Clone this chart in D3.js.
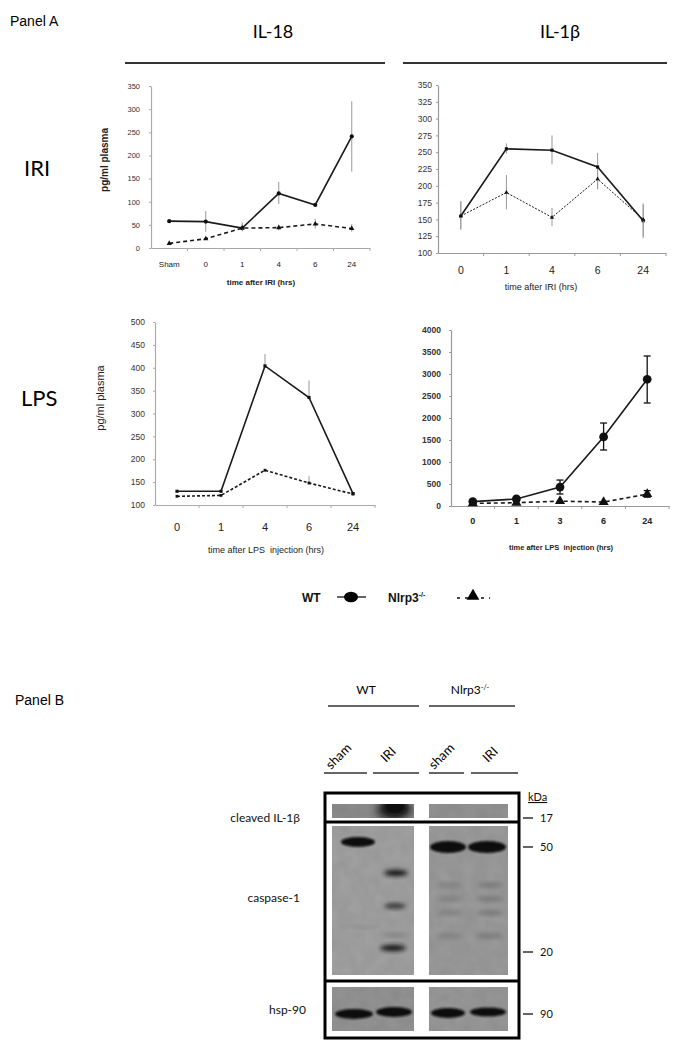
<!DOCTYPE html>
<html><head><meta charset="utf-8">
<script src="https://cdn.jsdelivr.net/npm/d3@7"></script>
<style>body{margin:0;background:#fff} svg{display:block}</style>
</head><body>
<script>
// ---------- DATA ----------
const il18IriCats = ["Sham","0","1","4","6","24"];
const il18IriWT   = [58,57,43,118,93,241];
const il18IriWTLo = [null,35,37,95,null,165];
const il18IriWTHi = [null,80,53,143,null,317];
const il18IriKO   = [10,20,43,44,52,42];
const il18IriKOLo = [null,null,36,38,42,35];
const il18IriKOHi = [null,null,55,50,63,52];
const il18IriYTicks = [0,50,100,150,200,250,300,350];

const il1bIriCats = ["0","1","4","6","24"];
const il1bIriWT   = [155,255,253,228,148];
const il1bIriWTLo = [135,248,232,195,122];
const il1bIriWTHi = [177,263,275,249,174];
const il1bIriKO   = [155,190,153,210,150];
const il1bIriKOLo = [135,165,140,195,125];
const il1bIriKOHi = [177,216,167,222,172];
const il1bIriYTicks = [100,125,150,175,200,225,250,275,300,325,350];

const il18LpsCats = ["0","1","4","6","24"];
const il18LpsWT   = [130,130,404,335,125];
const il18LpsWTHi = [null,null,430,372,null];
const il18LpsKO   = [119,121,176,148,124];
const il18LpsKOHi = [null,null,null,163,null];
const il18LpsYTicks = [100,150,200,250,300,350,400,450,500];

const il1bLpsCats = ["0","1","3","6","24"];
const il1bLpsWT   = [100,160,430,1570,2880];
const il1bLpsWTLo = [60,110,273,1273,2341];
const il1bLpsWTHi = [130,200,590,1886,3409];
const il1bLpsKO   = [60,75,110,90,270];
const il1bLpsKOLo = [null,null,null,null,200];
const il1bLpsKOHi = [null,null,null,null,350];
const il1bLpsYTicks = [0,500,1000,1500,2000,2500,3000,3500,4000];

const legendLabels = ["WT","Nlrp3"];
const blotRows = ["cleaved IL-1\u03b2","caspase-1","hsp-90"];
const blotLanes = ["sham","IRI","sham","IRI"];
const blotGroups = ["WT","Nlrp3"];
const kdaLabels = ["17","50","20","90"];

// ---------- SVG ----------
const W=678,H=1050;
const svg=d3.select("body").append("svg").attr("width",W).attr("height",H);
const ARIAL="'Liberation Sans', Arial, sans-serif";
const CAL="Lato, 'Open Sans', sans-serif";

function drawChart(o){
  const g=svg.append("g");
  const x=d3.scaleBand().domain(o.cats).range([o.x0,o.x1]);
  const y=d3.scaleLinear().domain(o.yDomain).range([o.yB,o.yT]);
  const bw=x.bandwidth();
  const cx=c=>x(c)+bw/2;
  const ya=g.append("g").attr("transform",`translate(${o.x0},0)`)
    .call(d3.axisLeft(y).tickValues(o.yTicks).tickFormat(d3.format("d")).tickSize(2).tickSizeOuter(0).tickPadding(o.yPad));
  ya.select(".domain").attr("stroke",o.axisColor).attr("stroke-width",1.2);
  ya.selectAll(".tick line").attr("stroke",o.axisColor);
  ya.selectAll("text").attr("font-family",ARIAL).attr("font-size",o.yFont)
    .attr("font-weight",o.bold?"bold":"normal").attr("fill","#333");
  const xa=g.append("g").attr("transform",`translate(0,${o.yB})`)
    .call(d3.axisBottom(x).tickSize(0).tickSizeOuter(0).tickPadding(o.xPad));
  xa.select(".domain").attr("stroke",o.axisColor).attr("stroke-width",1.2);
  xa.selectAll("text").attr("font-family",ARIAL).attr("font-size",o.xFont)
    .attr("font-weight",o.bold?"bold":"normal").attr("fill","#222");
  g.selectAll(".bt").data(o.cats).enter().append("line")
    .attr("x1",c=>x(c)+bw).attr("x2",c=>x(c)+bw)
    .attr("y1",o.yB).attr("y2",o.yB+3).attr("stroke",o.axisColor);
  o.series.forEach(s=>{
    const pts=o.cats.map((c,i)=>({c,v:s.v[i],lo:s.lo?s.lo[i]:null,hi:s.hi?s.hi[i]:null}));
    pts.forEach(p=>{
      if(p.hi==null) return;
      const lo=p.lo==null?p.v:p.lo;
      g.append("line").attr("x1",cx(p.c)).attr("x2",cx(p.c))
        .attr("y1",y(lo)).attr("y2",y(p.hi))
        .attr("stroke",o.errColor).attr("stroke-width",o.errW);
      if(o.caps){
        [lo,p.hi].forEach(v=>g.append("line").attr("x1",cx(p.c)-3.5).attr("x2",cx(p.c)+3.5)
          .attr("y1",y(v)).attr("y2",y(v)).attr("stroke",o.errColor).attr("stroke-width",o.errW));
      }
    });
    g.append("path").datum(pts)
      .attr("d",d3.line().x(p=>cx(p.c)).y(p=>y(p.v)))
      .attr("fill","none").attr("stroke","#1a1a1a").attr("stroke-width",s.w)
      .attr("stroke-dasharray",s.dash||null);
    g.selectAll(null).data(pts).enter().append("path")
      .attr("transform",p=>`translate(${cx(p.c)},${y(p.v)})`)
      .attr("d",d3.symbol().type(s.sym).size(s.size))
      .attr("fill","#111");
  });
  if(o.yLabel){
    g.append("text").attr("transform",`translate(${o.yLabel.x},${o.yLabel.y}) rotate(-90)`)
      .attr("text-anchor","middle").attr("font-family",ARIAL).attr("font-size",o.yLabel.size)
      .attr("font-weight",o.yLabel.weight).attr("fill","#222").text("pg/ml plasma");
  }
  g.append("text").attr("x",o.xLabel.x).attr("y",o.xLabel.y).attr("text-anchor","middle")
    .attr("font-family",ARIAL).attr("font-size",o.xLabel.size).attr("font-weight",o.xLabel.weight)
    .attr("fill","#222").attr("xml:space","preserve").text(o.xLabel.text);
}

// Chart 1: IL-18 IRI
drawChart({cats:il18IriCats,x0:151,x1:370,yDomain:[0,350],yB:248,yT:86,yTicks:il18IriYTicks,
  axisColor:"#aaa",yFont:7.5,yPad:9,xFont:8,xPad:13,bold:false,errColor:"#999",errW:1,caps:false,
  series:[{v:il18IriWT,lo:il18IriWTLo,hi:il18IriWTHi,w:1.6,sym:d3.symbolCircle,size:14},
          {v:il18IriKO,lo:il18IriKOLo,hi:il18IriKOHi,w:1.6,dash:"4,3",sym:d3.symbolTriangle,size:12}],
  yLabel:{x:108,y:160,size:10,weight:"bold"},
  xLabel:{x:261,y:285,size:8,weight:"bold",text:"time after IRI (hrs)"}});

// Chart 2: IL-1b IRI
drawChart({cats:il1bIriCats,x0:438,x1:666,yDomain:[100,350],yB:253,yT:85,yTicks:il1bIriYTicks,
  axisColor:"#999",yFont:8.5,yPad:4,xFont:10.5,xPad:14,bold:false,errColor:"#999",errW:1,caps:false,
  series:[{v:il1bIriWT,lo:il1bIriWTLo,hi:il1bIriWTHi,w:1.6,sym:d3.symbolSquare,size:10},
          {v:il1bIriKO,lo:il1bIriKOLo,hi:il1bIriKOHi,w:1,dash:"2,1.5",sym:d3.symbolTriangle,size:8}],
  xLabel:{x:541,y:290,size:9,weight:"normal",text:"time after IRI (hrs)"}});

// Chart 3: IL-18 LPS
drawChart({cats:il18LpsCats,x0:155,x1:375,yDomain:[100,500],yB:505,yT:322,yTicks:il18LpsYTicks,
  axisColor:"#aaa",yFont:8.5,yPad:8,xFont:11,xPad:18,bold:false,errColor:"#999",errW:1,caps:false,
  series:[{v:il18LpsWT,hi:il18LpsWTHi,w:1.6,sym:d3.symbolSquare,size:10},
          {v:il18LpsKO,hi:il18LpsKOHi,w:1.6,dash:"3,2",sym:d3.symbolSquare,size:8}],
  yLabel:{x:104,y:398,size:11,weight:"normal"},
  xLabel:{x:266,y:553,size:9,weight:"normal",text:"time after LPS  injection (hrs)"}});

// Chart 4: IL-1b LPS
drawChart({cats:il1bLpsCats,x0:451,x1:669,yDomain:[0,4000],yB:506,yT:330,yTicks:il1bLpsYTicks,
  axisColor:"#999",yFont:8.5,yPad:8,xFont:9,xPad:12,bold:true,errColor:"#111",errW:1.3,caps:true,
  series:[{v:il1bLpsWT,lo:il1bLpsWTLo,hi:il1bLpsWTHi,w:1.6,sym:d3.symbolCircle,size:60},
          {v:il1bLpsKO,lo:il1bLpsKOLo,hi:il1bLpsKOHi,w:1.6,dash:"4,3",sym:d3.symbolTriangle,size:45}],
  xLabel:{x:561,y:550,size:7.5,weight:"bold",text:"time after LPS  injection (hrs)"}});

// ---------- HEADERS ----------
svg.append("text").attr("x",10).attr("y",26).attr("font-family",ARIAL).attr("font-size",14).text("Panel A");
svg.append("text").attr("x",273).attr("y",38).attr("text-anchor","middle").attr("font-family",CAL).attr("font-size",18).text("IL-18");
svg.append("text").attr("x",560).attr("y",38).attr("text-anchor","middle").attr("font-family",CAL).attr("font-size",18).text("IL-1\u03b2");
[[125,385],[403,667]].forEach(([a,b])=>svg.append("line").attr("x1",a).attr("x2",b).attr("y1",63).attr("y2",63).attr("stroke","#333").attr("stroke-width",2));
svg.append("text").attr("x",24).attr("y",176).attr("font-family",CAL).attr("font-size",22).text("IRI");
svg.append("text").attr("x",21).attr("y",406).attr("font-family",CAL).attr("font-size",22).text("LPS");

// ---------- LEGEND ----------
const lg=svg.append("g").attr("font-family",ARIAL).attr("font-weight","bold").attr("font-size",12).attr("fill","#111");
lg.append("text").attr("x",302).attr("y",602).text(legendLabels[0]);
lg.append("line").attr("x1",337).attr("x2",366).attr("y1",597).attr("y2",597).attr("stroke","#111").attr("stroke-width",1.3);
lg.append("ellipse").attr("cx",351).attr("cy",597).attr("rx",7).attr("ry",5.2).attr("fill","#000");
const nt=lg.append("text").attr("x",388).attr("y",602).text(legendLabels[1]);
nt.append("tspan").attr("dy",-5).attr("font-size",7).text("-/-");
lg.append("line").attr("x1",457).attr("x2",490).attr("y1",598).attr("y2",598).attr("stroke","#111").attr("stroke-width",1.5).attr("stroke-dasharray","3,5");
lg.append("path").attr("transform","translate(473,596)").attr("d",d3.symbol().type(d3.symbolTriangle).size(70)()).attr("fill","#000");

// ---------- PANEL B ----------
const defs=svg.append("defs");
[["b1",1.3],["b2",2.2],["b3",3.5]].forEach(([id,s])=>defs.append("filter").attr("id",id).attr("x","-50%").attr("y","-50%").attr("width","200%").attr("height","200%")
  .append("feGaussianBlur").attr("stdDeviation",s));
const nf=defs.append("filter").attr("id","noise").attr("x",0).attr("y",0).attr("width","100%").attr("height","100%");
nf.append("feTurbulence").attr("type","fractalNoise").attr("baseFrequency",0.08).attr("numOctaves",2).attr("seed",3).attr("result","t");
nf.append("feColorMatrix").attr("in","t").attr("type","matrix").attr("values","0 0 0 0 0  0 0 0 0 0  0 0 0 0 0  0 0 0 0.18 0").attr("result","n");
nf.append("feComposite").attr("in","n").attr("in2","SourceGraphic").attr("operator","in").attr("result","m");
nf.append("feMerge").call(m=>{m.append("feMergeNode").attr("in","SourceGraphic");m.append("feMergeNode").attr("in","m");});

svg.append("text").attr("x",15).attr("y",705).attr("font-family",ARIAL).attr("font-size",14).text("Panel B");
svg.append("text").attr("x",366).attr("y",694).attr("text-anchor","middle").attr("font-family",CAL).attr("font-size",12).text(blotGroups[0]);
const n2=svg.append("text").attr("x",470).attr("y",694).attr("text-anchor","middle").attr("font-family",CAL).attr("font-size",12).text(blotGroups[1]);
n2.append("tspan").attr("dy",-4).attr("font-size",7).text("-/-");
[[328,419],[429,515]].forEach(([a,b])=>svg.append("line").attr("x1",a).attr("x2",b).attr("y1",706).attr("y2",706).attr("stroke","#333").attr("stroke-width",1.3));
const laneLab=[[331,770],[386,763],[434,770],[488,763]];
blotLanes.forEach((t,i)=>svg.append("text").attr("transform",`translate(${laneLab[i][0]},${laneLab[i][1]}) rotate(-45)`)
  .attr("font-family",CAL).attr("font-size",13).text(t));
[[324,367],[373,419],[429,464],[471,518]].forEach(([a,b])=>svg.append("line").attr("x1",a).attr("x2",b).attr("y1",773).attr("y2",773).attr("stroke","#333").attr("stroke-width",1.3));

// frame
const fr=svg.append("g");
fr.append("rect").attr("x",325).attr("y",793).attr("width",194).attr("height",245).attr("fill","#fff").attr("stroke","#000").attr("stroke-width",3);
fr.append("line").attr("x1",325).attr("x2",519).attr("y1",822).attr("y2",822).attr("stroke","#000").attr("stroke-width",3);
fr.append("line").attr("x1",325).attr("x2",519).attr("y1",981).attr("y2",981).attr("stroke","#000").attr("stroke-width",3);
const rowsY=[[804,818],[826,975],[987,1031]];
const panX=[[332,414],[429,508]];
const bgCol=[["#8e8e8e","#949494"],["#a3a3a3","#9c9c9c"],["#959595","#9a9a9a"]];
rowsY.forEach(([y0,y1],r)=>panX.forEach(([x0,x1],p)=>{
  fr.append("rect").attr("x",x0).attr("y",y0).attr("width",x1-x0).attr("height",y1-y0)
    .attr("fill",bgCol[r][p]).attr("filter","url(#noise)");
}));
const clip=defs.append("clipPath").attr("id","c1");
rowsY.forEach(([y0,y1])=>panX.forEach(([x0,x1])=>clip.append("rect").attr("x",x0).attr("y",y0).attr("width",x1-x0).attr("height",y1-y0)));
const bands=fr.append("g").attr("clip-path","url(#c1)");
function band(cx,cy,rx,ry,col,f,op){bands.append("ellipse").attr("cx",cx).attr("cy",cy).attr("rx",rx).attr("ry",ry).attr("fill",col).attr("opacity",op||1).attr("filter",`url(#${f})`);}
// cleaved IL-1b
band(394,810,18,11,"#2a2a2a","b3",0.9);
band(395,807,12,8,"#111","b2",1);
// caspase-1
band(358,842,17,5,"#0a0a0a","b1");
band(448,847,18,6,"#0a0a0a","b1");
band(487,847,19,6,"#0a0a0a","b1");
band(396,873,12,3.2,"#1a1a1a","b2");
band(395,906,11,3,"#333","b2",0.9);
band(393,948,13,3.2,"#1a1a1a","b2");
band(395,935,12,2,"#666","b2",0.5);
band(360,927,20,1.5,"#7a7a7a","b2",0.4);
[[450,885],[490,885],[450,899],[490,899],[450,913],[490,913],[450,936],[490,936]].forEach(([x,y],i)=>
  band(x,y,13,2.4,"#606060","b2",i%2?0.55:0.4));
// hsp-90
band(354,1014,19,5,"#111","b1");
band(394,1012,18,5,"#111","b1");
band(448,1013,17,5,"#111","b1");
band(488,1012,18,4.5,"#111","b1");

// row labels
const rl=svg.append("g").attr("font-family",CAL).attr("font-size",12).attr("fill","#111").attr("text-anchor","end");
rl.append("text").attr("x",300).attr("y",822).text(blotRows[0]);
rl.append("text").attr("x",300).attr("y",902).text(blotRows[1]);
rl.append("text").attr("x",306).attr("y",1014).text(blotRows[2]);
const kd=svg.append("g").attr("font-family",CAL).attr("font-size",11).attr("fill","#111");
kd.append("text").attr("x",528).attr("y",801).attr("text-decoration","underline").text("kDa");
const kdaY=[818,847,952,1014];
kdaLabels.forEach((t,i)=>{
  kd.append("line").attr("x1",523).attr("x2",533).attr("y1",kdaY[i]).attr("y2",kdaY[i]).attr("stroke","#111").attr("stroke-width",1.3);
  kd.append("text").attr("x",540).attr("y",kdaY[i]+4).text(t);
});
</script>
</body></html>
